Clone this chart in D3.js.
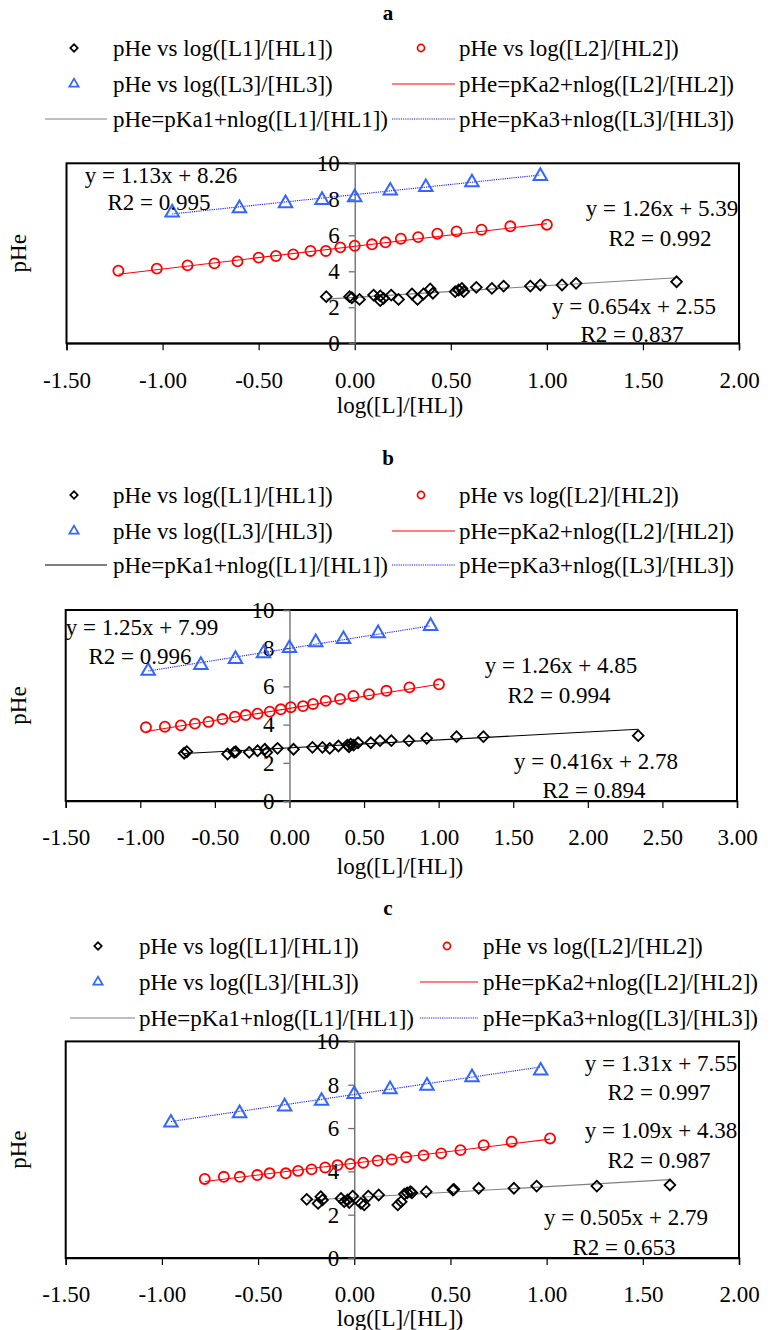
<!DOCTYPE html>
<html>
<head>
<meta charset="utf-8">
<script src="https://cdn.jsdelivr.net/npm/d3@7"></script>
<style>
  html, body { margin: 0; padding: 0; background: #fff; }
  svg { display: block; font-family: "Liberation Serif", "Times New Roman", serif; }
</style>
</head>
<body>
<svg id="chart" width="776" height="1330"></svg>
<script>
// ---------- data ----------
const seriesNames = ["L1", "L2", "L3"];
const xTicksA = [-1.5, -1.0, -0.5, 0, 0.5, 1.0, 1.5, 2.0];
const xTicksB = [-1.5, -1.0, -0.5, 0, 0.5, 1.0, 1.5, 2.0, 2.5, 3.0];
const xTicksC = [-1.5, -1.0, -0.5, 0, 0.5, 1.0, 1.5, 2.0];
const yTicks = [0, 2, 4, 6, 8, 10];

// panel a
const aL1x = [-0.148,-0.027,-0.015,0.025,0.098,0.133,0.133,0.15,0.19,0.228,0.298,0.327,0.358,0.393,0.407,0.523,0.541,0.558,0.567,0.633,0.714,0.775,0.914,0.966,1.079,1.152,1.675];
const aL1y = [2.59,2.59,2.53,2.44,2.68,2.63,2.37,2.50,2.68,2.44,2.74,2.44,2.74,3.02,2.78,2.87,2.96,3.05,2.87,3.11,3.05,3.18,3.18,3.24,3.24,3.33,3.42];
const aL2x = [-1.23,-1.03,-0.87,-0.73,-0.61,-0.50,-0.41,-0.32,-0.23,-0.15,-0.075,0.0,0.09,0.16,0.24,0.33,0.43,0.53,0.66,0.81,1.0];
const aL2y = [4.03,4.15,4.33,4.44,4.55,4.76,4.85,4.94,5.13,5.13,5.33,5.42,5.50,5.61,5.81,5.90,6.09,6.22,6.31,6.50,6.59];
const aL3x = [-0.95,-0.60,-0.36,-0.17,0.0,0.185,0.37,0.61,0.966];
const aL3y = [7.26,7.50,7.78,7.96,8.11,8.48,8.67,8.94,9.29];
const aSlope = [0.654, 1.26, 1.13];
const aIntercept = [2.55, 5.39, 8.26];
const aR2 = [0.837, 0.992, 0.995];

// panel b
const bL1x = [-0.706,-0.688,-0.415,-0.371,-0.36,-0.27,-0.214,-0.165,-0.152,-0.08,0.027,0.154,0.221,0.27,0.328,0.388,0.399,0.41,0.43,0.46,0.545,0.607,0.683,0.801,0.92,1.12,1.30,2.338];
const bL1y = [2.50,2.58,2.46,2.55,2.58,2.55,2.63,2.71,2.55,2.76,2.71,2.81,2.81,2.76,2.88,2.93,2.84,2.98,2.93,3.05,3.05,3.16,3.16,3.16,3.28,3.37,3.37,3.42];
const bL2x = [-0.962,-0.835,-0.728,-0.634,-0.543,-0.449,-0.366,-0.293,-0.214,-0.132,-0.058,0.009,0.091,0.158,0.243,0.339,0.429,0.533,0.65,0.804,1.002];
const bL2y = [3.86,3.89,3.96,4.05,4.14,4.29,4.41,4.50,4.57,4.68,4.80,4.91,4.97,5.08,5.24,5.34,5.50,5.59,5.77,5.95,6.11];
const bL3x = [-0.947,-0.594,-0.362,-0.174,0.0,0.176,0.362,0.594,0.946];
const bL3y = [6.81,7.12,7.43,7.73,8.00,8.31,8.47,8.78,9.16];
const bSlope = [0.416, 1.26, 1.25];
const bIntercept = [2.78, 4.85, 7.99];
const bR2 = [0.894, 0.994, 0.996];

// panel c
const cL1x = [-0.247,-0.188,-0.174,-0.165,-0.069,-0.052,-0.035,-0.026,-0.008,0.035,0.052,0.073,0.127,0.226,0.244,0.261,0.275,0.292,0.30,0.374,0.513,0.518,0.647,0.83,0.948,1.261,1.641];
const cL1y = [2.71,2.52,2.83,2.68,2.75,2.60,2.68,2.56,2.86,2.52,2.45,2.86,2.91,2.45,2.60,2.95,3.01,3.06,3.01,3.06,3.14,3.17,3.22,3.22,3.32,3.32,3.37];
const cL2x = [-0.777,-0.678,-0.595,-0.504,-0.44,-0.356,-0.292,-0.222,-0.151,-0.087,-0.021,0.047,0.122,0.195,0.27,0.36,0.452,0.552,0.673,0.818,1.018];
const cL2y = [3.65,3.75,3.75,3.83,3.91,3.91,4.02,4.09,4.18,4.29,4.34,4.40,4.49,4.55,4.65,4.74,4.83,4.98,5.21,5.37,5.52];
const cL3x = [-0.953,-0.596,-0.362,-0.17,0.0,0.186,0.378,0.612,0.969];
const cL3y = [6.25,6.68,6.99,7.25,7.56,7.79,7.95,8.34,8.65];
const cSlope = [0.505, 1.09, 1.31];
const cIntercept = [2.79, 4.38, 7.55];
const cR2 = [0.653, 0.987, 0.997];

const legendLabels = [
  "pHe vs log([L1]/[HL1])", "pHe vs log([L2]/[HL2])",
  "pHe vs log([L3]/[HL3])", "pHe=pKa2+nlog([L2]/[HL2])",
  "pHe=pKa1+nlog([L1]/[HL1])", "pHe=pKa3+nlog([L3]/[HL3])"
];
const xTitle = "log([L]/[HL])";
const yTitle = "pHe";

// ---------- styling ----------
const FONT = 23;
const markerColor = ["#000000", "#ff0000", "#3366ff"];
const markerArea = [58, 80, 78];
const markerStroke = [1.8, 1.8, 2];
const fitStroke = { L2: "#ff0000", L3: "#1a1aff" };

const svg = d3.select("#chart");

function markerPath(kind, scale) {
  const area = markerArea[kind] * scale * scale;
  if (kind === 0) return d3.symbol(d3.symbolSquare, area)();
  if (kind === 1) return d3.symbol(d3.symbolCircle, area)();
  return d3.symbol(d3.symbolTriangle, area)();
}
function markerTransform(kind, x, y) {
  return kind === 0 ? `translate(${x},${y}) rotate(45)` : `translate(${x},${y})`;
}

function fitColor(p, i) {
  if (i === 0) return p.l1Color;
  return i === 1 ? fitStroke.L2 : fitStroke.L3;
}

function drawPanel(p) {
  const g = svg.append("g");
  const x = d3.scaleLinear().domain(p.xDomain).range([p.left, p.right]);
  const y = d3.scaleLinear().domain([0, 10]).range([p.bottom, p.top]);

  // panel letter
  g.append("text").attr("x", 388).attr("y", p.titleY).attr("dy", "0.35em")
    .attr("text-anchor", "middle").attr("font-weight", "bold").attr("font-size", 21)
    .text(p.title);

  // legend: markers in the first two slots, fitted lines in the rest
  const rows = p.legendRows;
  const lg = p.legend;
  const legendItems = [
    { row: 0, col: 0, kind: "marker", s: 0 },
    { row: 0, col: 1, kind: "marker", s: 1 },
    { row: 1, col: 0, kind: "marker", s: 2 },
    { row: 1, col: 1, kind: "line", s: 1 },
    { row: 2, col: 0, kind: "line", s: 0 },
    { row: 2, col: 1, kind: "line", s: 2 }
  ];
  legendItems.forEach((it, i) => {
    const cy = rows[it.row];
    const c = lg[it.col];
    if (it.kind === "marker") {
      g.append("path").attr("d", markerPath(it.s, 0.7))
        .attr("transform", markerTransform(it.s, c.marker, cy))
        .attr("fill", "none").attr("stroke", markerColor[it.s]).attr("stroke-width", 1.7);
    } else {
      const ln = g.append("line").attr("x1", c.line0).attr("x2", c.line1)
        .attr("y1", cy).attr("y2", cy)
        .attr("stroke", fitColor(p, it.s)).attr("stroke-width", 1.1);
      if (it.s === 2) ln.attr("stroke-dasharray", "1.2,1");
    }
    g.append("text").attr("x", c.text).attr("y", cy).attr("dy", "0.35em")
      .attr("font-size", FONT).text(legendLabels[i]);
  });

  // plot frame
  g.append("rect").attr("x", p.left).attr("y", p.top)
    .attr("width", p.right - p.left).attr("height", p.bottom - p.top)
    .attr("fill", "none").attr("stroke", "#000").attr("stroke-width", 2);

  // x axis along the bottom edge
  const xAxis = g.append("g").attr("transform", `translate(0,${p.bottom})`)
    .call(d3.axisBottom(x).tickValues(p.xTicks).tickSize(7).tickPadding(21)
      .tickFormat(d => d.toFixed(2)));
  xAxis.select(".domain").attr("stroke", "#000").attr("stroke-width", 1.5);
  xAxis.selectAll(".tick line").attr("stroke", "#000").attr("stroke-width", 1.2);
  xAxis.selectAll("text").attr("font-size", FONT).attr("fill", "#000")
    .attr("font-family", "Liberation Serif");

  // y axis crossing at x = 0
  const yAxis = g.append("g").attr("transform", `translate(${x(0)},0)`)
    .call(d3.axisLeft(y).tickValues(yTicks).tickSize(6).tickPadding(9).tickFormat(d3.format("d")));
  yAxis.select(".domain").attr("stroke", "#666").attr("stroke-width", 1.3);
  yAxis.selectAll(".tick line").attr("stroke", "#666").attr("stroke-width", 1.2);
  yAxis.selectAll("text").attr("font-size", FONT).attr("fill", "#000")
    .attr("font-family", "Liberation Serif");

  // axis titles
  g.append("text").attr("x", 400).attr("y", p.xTitleY).attr("dy", "0.35em")
    .attr("text-anchor", "middle").attr("font-size", FONT).text(xTitle);
  g.append("text").attr("transform", `translate(18,${(p.top + p.bottom) / 2}) rotate(-90)`)
    .attr("dy", "0.35em").attr("text-anchor", "middle").attr("font-size", FONT).text(yTitle);

  // fitted lines over each series' x range
  p.series.forEach((s, i) => {
    const [x0, x1] = d3.extent(s.x);
    const pts = [x0, x1].map(v => [x(v), y(p.slope[i] * v + p.intercept[i])]);
    const ln = g.append("path").attr("d", d3.line()(pts))
      .attr("fill", "none").attr("stroke", fitColor(p, i)).attr("stroke-width", 1.1);
    if (i === 2) ln.attr("stroke-dasharray", "1.2,1");
  });

  // markers
  p.series.forEach((s, i) => {
    g.append("g").selectAll("path").data(d3.zip(s.x, s.y)).join("path")
      .attr("d", markerPath(i, 1))
      .attr("transform", d => markerTransform(i, x(d[0]), y(d[1])))
      .attr("fill", "none").attr("stroke", markerColor[i]).attr("stroke-width", markerStroke[i]);
  });

  // fit equations
  p.series.forEach((s, i) => {
    const lab = p.labels[i];
    g.append("text").attr("x", lab.x).attr("y", lab.y1).attr("dy", "0.35em")
      .attr("text-anchor", "middle").attr("font-size", FONT)
      .text(`y = ${p.slope[i]}x + ${p.intercept[i]}`);
    g.append("text").attr("x", lab.x - 2).attr("y", lab.y2).attr("dy", "0.35em")
      .attr("text-anchor", "middle").attr("font-size", FONT)
      .text(`R2 = ${p.r2[i].toFixed(3)}`);
  });
}

const legendAB = [
  { marker: 74, text: 113, line0: 45, line1: 107 },
  { marker: 421, text: 459, line0: 392, line1: 455 }
];
const legendC = [
  { marker: 98, text: 139, line0: 70, line1: 135 },
  { marker: 447, text: 483, line0: 420, line1: 478 }
];

drawPanel({
  title: "a", titleY: 13, legendRows: [48, 84, 119], legend: legendAB,
  left: 66.5, right: 739, top: 163.3, bottom: 343.3, xDomain: [-1.5, 2], xTicks: xTicksA,
  xTitleY: 405, l1Color: "#808080",
  series: [{ x: aL1x, y: aL1y }, { x: aL2x, y: aL2y }, { x: aL3x, y: aL3y }],
  slope: aSlope, intercept: aIntercept, r2: aR2,
  labels: [{ x: 634, y1: 306, y2: 334 }, { x: 662, y1: 208, y2: 238 }, { x: 161, y1: 175, y2: 202 }]
});
drawPanel({
  title: "b", titleY: 458, legendRows: [495, 531, 565], legend: legendAB,
  left: 65.7, right: 737, top: 610, bottom: 801, xDomain: [-1.5, 3], xTicks: xTicksB,
  xTitleY: 866, l1Color: "#000000",
  series: [{ x: bL1x, y: bL1y }, { x: bL2x, y: bL2y }, { x: bL3x, y: bL3y }],
  slope: bSlope, intercept: bIntercept, r2: bR2,
  labels: [{ x: 596, y1: 761, y2: 790 }, { x: 561, y1: 665, y2: 695 }, { x: 142, y1: 627, y2: 656 }]
});
drawPanel({
  title: "c", titleY: 908, legendRows: [946, 982, 1018], legend: legendC,
  left: 65.7, right: 739, top: 1041.4, bottom: 1258, xDomain: [-1.5, 2], xTicks: xTicksC,
  xTitleY: 1318, l1Color: "#808080",
  series: [{ x: cL1x, y: cL1y }, { x: cL2x, y: cL2y }, { x: cL3x, y: cL3y }],
  slope: cSlope, intercept: cIntercept, r2: cR2,
  labels: [{ x: 626, y1: 1217, y2: 1247 }, { x: 661, y1: 1130, y2: 1160 }, { x: 661, y1: 1063, y2: 1092 }]
});
</script>
</body>
</html>
